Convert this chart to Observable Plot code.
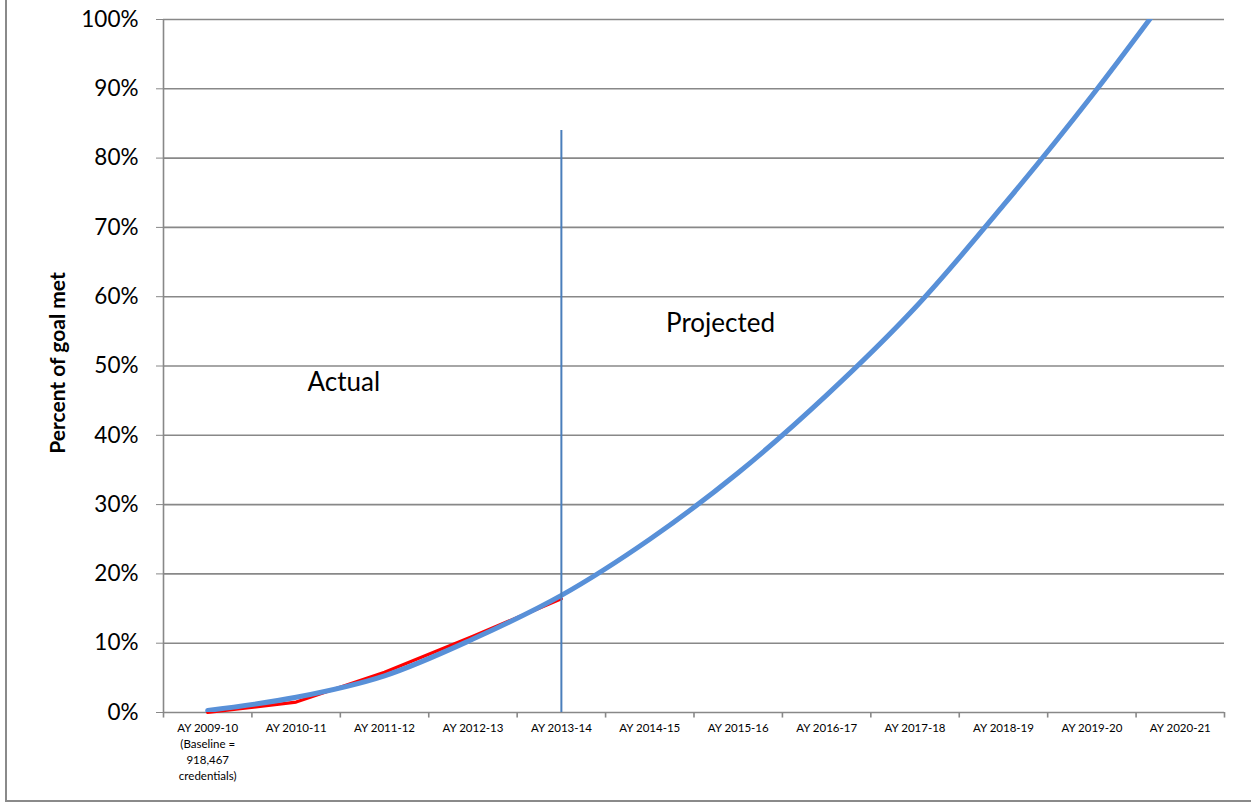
<!DOCTYPE html>
<html>
<head>
<meta charset="utf-8">
<script src="https://cdn.jsdelivr.net/npm/d3@7"></script>
<script src="https://cdn.jsdelivr.net/npm/@observablehq/plot@0.6"></script>
<style>
  html, body { margin: 0; padding: 0; background: #fff; }
  #wrap { position: relative; width: 1251px; height: 804px; overflow: hidden; }
  #frame { position: absolute; left: 5px; top: 0; width: 1260px; height: 800px;
           border-left: 2px solid #8a8a8a; border-bottom: 2px solid #8a8a8a; pointer-events: none; }
  svg { font-family: Lato, "Open Sans", sans-serif; }
</style>
</head>
<body>
<div id="wrap"><div id="frame"></div></div>
<script>
// Categories (x axis)
const categories = [
  "AY 2009-10\n(Baseline =\n918,467\ncredentials)",
  "AY 2010-11", "AY 2011-12", "AY 2012-13", "AY 2013-14", "AY 2014-15",
  "AY 2015-16", "AY 2016-17", "AY 2017-18", "AY 2018-19", "AY 2019-20", "AY 2020-21"
];
// Projected (blue, smoothed) percent of goal met
const projected = [0.003, 0.022, 0.053, 0.106, 0.169, 0.250, 0.346, 0.458, 0.584, 0.732, 0.890, 1.06];
// Actual (red) percent of goal met
const actual = [0.0, 0.015, 0.058, 0.110, 0.164];
// Y tick values
const yTicks = [0, 0.1, 0.2, 0.3, 0.4, 0.5, 0.6, 0.7, 0.8, 0.9, 1.0];
// Divider between actual and projected
const dividerIndex = 4, dividerTop = 0.84;
// Annotations
const notes = [
  {label: "Actual", i: 1.54, v: 0.476},
  {label: "Projected", i: 5.8, v: 0.561}
];

const projData = projected.map((v, i) => ({i, v}));
const actData = actual.map((v, i) => ({i, v}));
const catData = categories.map((c, i) => ({i, c}));
const bounds = d3.range(categories.length + 1).map(i => i - 0.5);

const chart = Plot.plot({
  width: 1251,
  height: 804,
  marginLeft: 163,
  marginRight: 27,
  marginTop: 19,
  marginBottom: 92,
  x: {type: "linear", domain: [-0.5, categories.length - 0.5], axis: null},
  y: {domain: [0, 1], axis: null},
  marks: [
    Plot.ruleY(yTicks, {stroke: "#888", strokeWidth: 1.6}),
    Plot.ruleX([-0.5], {stroke: "#888", strokeWidth: 1.6}),
    Plot.ruleX(bounds, {y1: 0, y2: -0.008, stroke: "#888", strokeWidth: 1.6}),
    Plot.axisY(yTicks, {
      tickSize: 7, tickPadding: 18, stroke: "#888", fill: "#000",
      tickFormat: d => Math.round(d * 100) + "%", fontSize: 22.5, label: null
    }),
    Plot.text(catData, {
      x: "i", y: 0, text: "c", dy: 8, lineAnchor: "top", lineHeight: 1.4,
      fontSize: 11.5, fill: "#000"
    }),
    Plot.line(actData, {x: "i", y: "v", stroke: "#ff0000", strokeWidth: 3.2}),
    Plot.line(projData, {x: "i", y: "v", stroke: "#5890D8", strokeWidth: 5, curve: "catmull-rom", clip: true}),
    Plot.ruleX([dividerIndex], {y1: 0, y2: dividerTop, stroke: "#4A7EBB", strokeWidth: 2}),
    Plot.text(notes, {x: "i", y: "v", text: "label", fontSize: 26, fill: "#000"}),
    Plot.text(["Percent of goal met"], {
      frameAnchor: "left", textAnchor: "middle", dx: -105, dy: -3, rotate: -90,
      fontSize: 21, fontWeight: "bold", fill: "#000"
    })
  ]
});
document.getElementById("wrap").prepend(chart);
</script>
</body>
</html>
